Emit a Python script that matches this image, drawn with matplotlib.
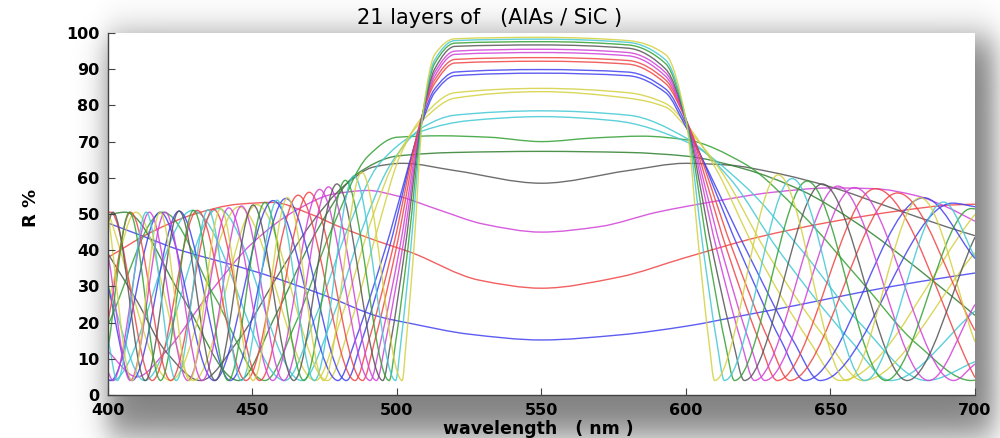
import numpy as np
import matplotlib
matplotlib.use("Agg")
import matplotlib.pyplot as plt
from matplotlib.path import Path
from matplotlib.patches import PathPatch

# ---------------- data ----------------
title_text = "21 layers of   (AlAs / SiC )"
xlabel_text = "wavelength   ( nm )"
ylabel_text = "R %"
xtick_vals = [400, 450, 500, 550, 600, 650, 700]
ytick_vals = [0, 10, 20, 30, 40, 50, 60, 70, 80, 90, 100]

wl_1 = [400, 411, 425, 437, 452.6, 475, 494, 504.5, 525, 550, 577, 600, 620, 639, 660, 680, 700]
R_1 = [47.5, 44.2, 40.0, 37.3, 33.7, 27.5, 21.6, 19.8, 16.8, 15.2, 16.6, 19.0, 22.0, 24.9, 28.3, 31.2, 33.7]

wl_2 = [400, 415, 430, 445, 457, 470, 480, 494, 504.5, 528.6, 550, 577, 600, 625, 650, 675, 692, 700]
R_2 = [38.0, 45.0, 50.0, 52.7, 53.2, 50.0, 46.5, 42.3, 39.5, 31.7, 29.5, 32.6, 38.0, 43.6, 47.8, 51.0, 52.5, 52.7]

wl_3 = [400, 410, 420, 435, 450, 465, 478, 490, 500, 515, 530, 550, 570, 590, 610, 630, 650, 665, 680, 690, 700]
R_3 = [12, 5, 12, 28, 42, 51, 55.5, 56.5, 55, 51, 47.2, 45, 46.5, 50.5, 53.5, 56, 57.2, 57, 55, 52, 48]

wl_4 = [400, 410, 420, 432, 445, 458, 470, 482, 492, 502, 520, 550, 580, 600, 615, 630, 650, 670, 690, 700]
R_4 = [39, 26, 12, 4, 15, 32, 47, 58, 63, 64, 62, 58.5, 62, 64, 63.5, 61.5, 57.5, 52, 46.5, 44]

wl_5 = [400, 405.9, 425, 445.2, 458, 472, 486, 500, 520, 550, 580, 600, 620, 640, 660, 680, 700]
R_5 = [49.8, 50.5, 28, 4, 22, 45, 61, 66, 67, 67.3, 67, 66, 62.5, 56.5, 47, 35, 22]

wl_6 = [400, 419, 437, 454.3, 465, 477, 490, 500, 515, 532, 550, 568, 585, 600, 620, 640, 660, 680, 698.7, 700]
R_6 = [19.4, 50.5, 27, 4, 20, 45, 66, 71.2, 71.6, 71.2, 70.0, 71.0, 71.5, 70.5, 64, 50, 32, 14, 4, 4.1]

wl_7 = [400, 401.5, 429.2, 461.2, 472, 483, 494, 509, 525, 550, 575, 600, 620, 640, 660, 683.2, 700]
R_7 = [4.3, 4, 51, 4, 22, 46, 64, 73, 75.8, 76.9, 75.8, 70, 58, 40, 20, 4, 9.2]

wl_8 = [400, 412.6, 438.1, 467.0, 478, 488, 498, 509, 520, 550, 580, 600, 615, 632, 657, 670.7, 700]
R_8 = [30.1, 4, 51.5, 4, 22, 46, 64, 74, 77.3, 78.5, 77.3, 71, 60, 40, 15, 4, 23.2]

wl_9 = [400, 421.7, 445.3, 471.8, 481, 491, 500, 509, 520, 550, 580, 593, 600, 612, 627.5, 648.9, 661.1, 700]
R_9 = [50.5, 4, 52.0, 4, 22, 48, 66, 76, 82, 83.8, 82, 79.5, 74, 62, 40, 15, 4, 39.3]

wl_10 = [400, 409.6, 429.6, 451.5, 475.9, 484, 493, 501, 509, 520, 550, 580, 593, 600, 610, 624, 642.6, 653.3, 700]
R_10 = [25.8, 50.5, 4, 52.6, 4, 20, 45, 66, 77, 83.5, 84.7, 83.5, 80.5, 75, 63, 40, 15, 4, 49.9]

wl_11 = [400, 400.9, 418.0, 436.7, 457.1, 479.6, 485.5, 495.8, 509, 513, 520, 550, 580, 593, 600, 620.9, 637.1, 646.4, 692.2, 700]
R_11 = [4.2, 4, 50.5, 4, 53.7, 4, 15, 40, 76, 83.5, 88.2, 88.9, 88.2, 83.5, 74, 40, 15, 4, 53.0, 52.0]

wl_12 = [400, 408.3, 424.6, 442.3, 461.5, 482.5, 487.8, 497.1, 509, 513, 520, 550, 580, 593, 600, 618.5, 632.9, 641.1, 682.3, 700]
R_12 = [30.1, 4, 50.8, 4, 54.3, 4, 15, 40, 77, 84.5, 89.2, 89.9, 89.2, 84.5, 75, 40, 15, 4, 54.5, 37.7]

wl_13 = [400, 400.9, 415.3, 430.9, 447.7, 465.8, 485.5, 490.2, 498.4, 509, 513, 520, 550, 580, 593, 600, 616.2, 628.7, 635.9, 673.2, 700]
R_13 = [50.4, 50.5, 4, 51.0, 4, 55.2, 4, 15, 40, 78, 86, 91.7, 92.2, 91.4, 86, 76, 40, 15, 4, 55.8, 17.8]

wl_14 = [400, 407.8, 421.7, 436.5, 452.5, 469.6, 488.1, 492.3, 499.6, 509, 513, 520, 550, 580, 593, 600, 614.2, 625.3, 631.6, 665.5, 700]
R_14 = [20.4, 50.5, 4, 51.3, 4, 56.0, 4, 15, 40, 78, 87, 92.7, 93.2, 92.4, 87, 76, 40, 15, 4, 57.0, 4.8]

wl_15 = [400, 401.7, 414.3, 427.6, 441.8, 457.0, 473.2, 490.7, 494.4, 500.8, 509, 513, 520, 550, 580, 593, 600, 612.3, 621.8, 627.3, 658.3, 692.6, 700]
R_15 = [6.4, 4, 50.5, 4, 51.7, 4, 56.8, 4, 15, 40, 78, 88, 94.1, 94.6, 93.7, 88, 76, 40, 15, 4, 57.3, 4, 8.6]

wl_16 = [400, 407.7, 419.8, 432.6, 446.2, 460.8, 476.3, 492.9, 496.1, 501.8, 509, 513, 520, 550, 580, 593, 600, 610.7, 619.0, 623.7, 652.5, 684.0, 700]
R_16 = [38.9, 4, 50.5, 4, 52.2, 4, 57.5, 4, 15, 40, 78, 89, 95.0, 95.5, 94.6, 89, 76, 40, 15, 4, 57.7, 4, 25.0]

wl_17 = [400, 401.7, 412.9, 424.6, 437.1, 450.2, 464.3, 479.2, 495.1, 497.9, 502.7, 509, 513, 520, 550, 580, 593, 600, 609.1, 616.2, 620.2, 647.1, 676.5, 700]
R_17 = [47.5, 50.5, 4, 50.8, 4, 52.5, 4, 58.3, 4, 15, 40, 78, 90, 96.3, 96.7, 95.8, 90, 76, 40, 15, 4, 58.3, 4, 43.6]

wl_18 = [400, 407.4, 418.2, 429.6, 441.6, 454.3, 467.8, 482.1, 497.3, 499.6, 503.7, 509, 513, 520, 550, 580, 593, 600, 607.6, 613.4, 616.8, 641.9, 669.1, 698.7, 700]
R_18 = [12.7, 50.5, 4, 51.0, 4, 53.2, 4, 59.3, 4, 15, 40, 78, 91.5, 97.2, 97.6, 96.7, 91.5, 76, 40, 15, 4, 59.1, 4, 51.5, 51.4]

wl_19 = [400, 403.2, 413.2, 423.6, 434.6, 446.2, 458.5, 471.4, 485.1, 499.5, 501.4, 504.7, 509, 513, 520, 550, 580, 593, 600, 606.0, 610.6, 613.3, 636.7, 661.9, 689.1, 700]
R_19 = [15.6, 4, 50.5, 4, 51.2, 4, 53.8, 4, 60.5, 4, 15, 40, 78, 92.5, 97.9, 98.3, 97.4, 92.5, 76, 40, 15, 4, 59.8, 4, 53.3, 38.1]

wl_20 = [400, 408.3, 418.0, 428.2, 439.0, 450.2, 462.1, 474.6, 487.8, 501.8, 503.2, 505.8, 509, 513, 520, 550, 580, 593, 600, 604.5, 607.9, 609.9, 631.9, 655.6, 681.1, 700]
R_20 = [50.3, 4, 50.5, 4, 51.5, 4, 54.5, 4, 61.5, 4, 15, 40, 78, 94, 98.4, 98.8, 97.9, 94, 76, 40, 15, 4, 60.8, 4, 54.5, 14.7]

BLUE, RED, MAG, GRAY = "#4040f0", "#f04444", "#d040d8", "#555555"
DGREEN, GREEN, CYAN, YELLOW = "#2f7f2f", "#34a034", "#40c8d4", "#d4d040"
layer_colors = [BLUE, RED, MAG, GRAY, DGREEN, GREEN, CYAN, CYAN, YELLOW, YELLOW,
                BLUE, BLUE, RED, RED, MAG, MAG, GRAY, GREEN, CYAN, YELLOW]

layer_wl = [wl_1, wl_2, wl_3, wl_4, wl_5, wl_6, wl_7, wl_8, wl_9, wl_10,
            wl_11, wl_12, wl_13, wl_14, wl_15, wl_16, wl_17, wl_18, wl_19, wl_20]
layer_R = [R_1, R_2, R_3, R_4, R_5, R_6, R_7, R_8, R_9, R_10,
           R_11, R_12, R_13, R_14, R_15, R_16, R_17, R_18, R_19, R_20]


def smooth_path(x, y):
    """Smooth (shape preserving) Bezier path through the data nodes."""
    x = np.asarray(x, float)
    y = np.asarray(y, float)
    h = np.diff(x)
    d = np.diff(y) / h
    m = np.zeros_like(y)
    m[0], m[-1] = d[0], d[-1]
    for k in range(1, len(x) - 1):
        if d[k - 1] * d[k] > 0:
            w1 = 2 * h[k] + h[k - 1]
            w2 = h[k] + 2 * h[k - 1]
            m[k] = (w1 + w2) / (w1 / d[k - 1] + w2 / d[k])
    verts = [(x[0], y[0])]
    codes = [Path.MOVETO]
    for k in range(len(x) - 1):
        t = h[k] / 3.0
        verts += [(x[k] + t, y[k] + m[k] * t), (x[k + 1] - t, y[k + 1] - m[k + 1] * t), (x[k + 1], y[k + 1])]
        codes += [Path.CURVE4] * 3
    return Path(verts, codes)


# ---------------- figure ----------------
W, H = 1000, 438
fig = plt.figure(figsize=(W / 100, H / 100), dpi=100)
fig.patch.set_facecolor("white")

# soft drop-shadow background around the plot box (stronger to the right / below)
bg = fig.add_axes([0, 0, 1, 1])
bg.set_axis_off()
xs = np.arange(W) + 0.5
ys = np.arange(H) + 0.5


def soft_band(v, a, b, s):
    return 1 / (1 + np.exp(-(v - a) / s)) - 1 / (1 + np.exp(-(v - b) / s))


mask = soft_band(ys, 38, 436, 11)[:, None] * soft_band(xs, 108, 994, 8)[None, :]
shade = 1 - 0.5 * mask
bg.imshow(shade, cmap="gray", vmin=0, vmax=1, aspect="auto", extent=(0, 1, 0, 1),
          interpolation="bilinear")
bg.set_xlim(0, 1)
bg.set_ylim(0, 1)

ax_left, ax_right, ax_top, ax_bot = 108, 975, 33, 395
ax = fig.add_axes([ax_left / W, 1 - ax_bot / H, (ax_right - ax_left) / W, (ax_bot - ax_top) / H])
ax.set_facecolor("white")

for wl, rr, col in zip(layer_wl, layer_R, layer_colors):
    patch = PathPatch(smooth_path(wl, rr), fill=False, edgecolor=col, lw=1.0, alpha=0.85,
                      transform=ax.transData)
    ax.add_patch(patch)

ax.set_xlim(400, 700)
ax.set_ylim(0, 100)
ax.set_xticks(xtick_vals)
ax.set_yticks(ytick_vals)
ax.set_xticklabels([str(v) for v in xtick_vals], fontsize=11.5, fontweight="bold",
                   family="DejaVu Sans")
ax.set_yticklabels([str(v) for v in ytick_vals], fontsize=11.5, fontweight="bold",
                   family="DejaVu Sans")
ax.tick_params(axis="both", direction="in", length=5, width=0.8, color="#444444")
ax.tick_params(axis="x", pad=6)
ax.tick_params(axis="y", pad=6)
for side in ["top", "right"]:
    ax.spines[side].set_visible(False)
for side in ["left", "bottom"]:
    ax.spines[side].set_color("#444444")
    ax.spines[side].set_linewidth(1.0)

fig.text(0.49, 1 - 18 / H, title_text, ha="center", va="center", fontsize=15,
         family="DejaVu Sans")
fig.text(0.538, 1 - 429 / H, xlabel_text, ha="center", va="center", fontsize=12.5,
         fontweight="bold", family="DejaVu Sans")
fig.text(0.031, 1 - 208 / H, ylabel_text, ha="center", va="center", fontsize=13,
         fontweight="bold", rotation=90, family="DejaVu Sans")

fig.savefig("out.png", dpi=100)
